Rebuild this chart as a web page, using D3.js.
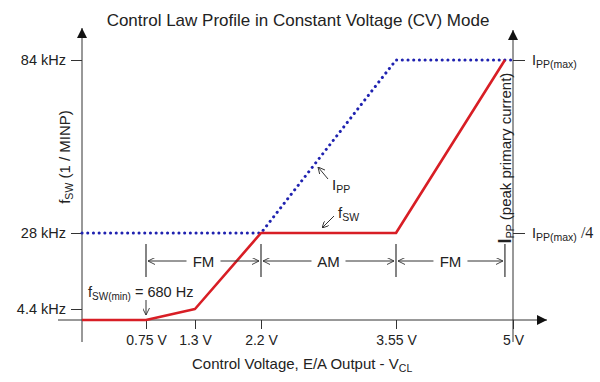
<!DOCTYPE html>
<html><head><meta charset="utf-8">
<script src="https://cdn.jsdelivr.net/npm/d3@7"></script>
<style>body{margin:0;background:#fff}svg{display:block}text{font-family:"Liberation Sans",Arial,sans-serif;fill:#222}</style>
</head><body><svg id="c" width="600" height="382"></svg>
<script>
// ---- data ----
const voltTicks = [0.75, 1.3, 2.2, 3.55, 5];
const voltLabels = ["0.75 V", "1.3 V", "2.2 V", "3.55 V", "5 V"];
const freqTicks = [4.4, 28, 84];
const freqLabels = ["4.4 kHz", "28 kHz", "84 kHz"];
const fswVolts = [0, 0.75, 1.3, 2.2, 3.55, 4.9];
const fswKHz   = [0.68, 0.68, 4.4, 28, 28, 84];
const ippVolts = [0, 2.2, 3.55, 5];
const ippFrac  = [0.25, 0.25, 1, 1];
const ippTicks = [0.25, 1];
const modeEdges = [0.75, 2.2, 3.55, 4.9];
const modeNames = ["FM", "AM", "FM"];

const svg = d3.select("#c");
const x = d3.scaleLinear().domain([0, 0.75, 1.3, 2.2, 3.55, 5]).range([82, 146, 195, 261, 396, 513]);
const y = d3.scaleLinear().domain([0.68, 4.4, 28, 84]).range([320, 309, 233, 60]);
const yR = d3.scaleLinear().domain([0.25, 1]).range([233, 60]);
const axisCol = "#333";

// defs arrow
svg.append("defs").append("marker").attr("id","ah").attr("viewBox","0 0 10 10").attr("refX",10).attr("refY",5)
  .attr("markerWidth",10).attr("markerHeight",11).attr("markerUnits","userSpaceOnUse").attr("orient","auto")
  .append("path").attr("d","M0,0 L10,5 L0,10 Z").attr("fill","#111");
const m2 = svg.select("defs").append("marker").attr("id","oa").attr("viewBox","0 0 10 10").attr("refX",10).attr("refY",5)
  .attr("markerWidth",7).attr("markerHeight",7).attr("markerUnits","userSpaceOnUse").attr("orient","auto");
m2.append("path").attr("d","M0,0 L10,5 L0,10").attr("fill","none").attr("stroke","#333").attr("stroke-width",1.3);

// title
svg.append("text").attr("x",298).attr("y",26).attr("text-anchor","middle").attr("font-size",17).text("Control Law Profile in Constant Voltage (CV) Mode");

// axis lines
svg.append("line").attr("x1",x(0)).attr("x2",x(0)).attr("y1",342).attr("y2",28).attr("stroke",axisCol).attr("marker-end","url(#ah)");
svg.append("line").attr("x1",x(5)).attr("x2",x(5)).attr("y1",342).attr("y2",30).attr("stroke",axisCol).attr("marker-end","url(#ah)");
svg.append("line").attr("x1",58).attr("x2",547).attr("y1",320).attr("y2",320).attr("stroke",axisCol).attr("marker-end","url(#ah)");

// left axis
const gl = svg.append("g").attr("transform",`translate(${x(0)},0)`)
  .call(d3.axisLeft(y).tickValues(freqTicks).tickSize(11).tickPadding(5).tickFormat((d,i)=>freqLabels[i]));
gl.select(".domain").remove();
gl.selectAll("line").attr("stroke",axisCol);
gl.selectAll("text").attr("font-size",14.5).attr("font-family","Liberation Sans, Arial, sans-serif").attr("fill","#222");

// bottom axis
const gb = svg.append("g").attr("transform","translate(0,320)")
  .call(d3.axisBottom(x).tickValues(voltTicks).tickSize(9).tickPadding(6).tickFormat((d,i)=>voltLabels[i]));
gb.select(".domain").remove();
gb.selectAll("line").attr("stroke",axisCol);
gb.selectAll("text").attr("font-size",14).attr("font-family","Liberation Sans, Arial, sans-serif").attr("fill","#222");

// right axis
const gr = svg.append("g").attr("transform",`translate(${x(5)},0)`)
  .call(d3.axisRight(yR).tickValues(ippTicks).tickSize(12).tickFormat(""));
gr.select(".domain").remove();
gr.selectAll("line").attr("stroke",axisCol);
function ippLabel(yy, suffix){
  const t = svg.append("text").attr("x",532).attr("y",yy+5).attr("font-size",14.5);
  t.append("tspan").text("I");
  t.append("tspan").attr("font-size",10.5).attr("dy",3).text("PP(max)");
  if(suffix){ t.append("tspan").attr("dy",-3).attr("font-family","Liberation Serif, serif").attr("font-size",16).text(suffix); }
}
ippLabel(yR(1), null);
ippLabel(yR(0.25), " /4");

// axis titles
const ty = svg.append("text").attr("transform","translate(70,157) rotate(-90)").attr("text-anchor","middle").attr("font-size",15);
ty.append("tspan").text("f");
ty.append("tspan").attr("font-size",10.5).attr("dy",3).text("SW");
ty.append("tspan").attr("dy",-3).text(" (1 / MINP)");

const tr = svg.append("text").attr("transform","translate(511,158) rotate(-90)").attr("text-anchor","middle").attr("font-size",15);
tr.append("tspan").attr("font-weight","bold").attr("font-size",18).text("I");
tr.append("tspan").attr("font-size",10.5).attr("dy",3).text("PP");
tr.append("tspan").attr("dy",-3).text(" (peak primary current)");

const tx = svg.append("text").attr("x",192).attr("y",369).attr("font-size",15);
tx.append("tspan").text("Control Voltage, E/A Output - V");
tx.append("tspan").attr("font-size",10.5).attr("dy",3).text("CL");

// lines
const lineF = d3.line().x(d=>x(d[0])).y(d=>y(d[1]));
const lineI = d3.line().x(d=>x(d[0])).y(d=>yR(d[1]));
svg.append("path").datum(ippVolts.map((v,i)=>[v,ippFrac[i]])).attr("d",lineI)
  .attr("fill","none").attr("stroke","#1f22b0").attr("stroke-width",3).attr("stroke-linecap","round").attr("stroke-dasharray","0.1 5.6");
svg.append("path").datum(fswVolts.map((v,i)=>[v,fswKHz[i]])).attr("d",lineF)
  .attr("fill","none").attr("stroke","#d81e25").attr("stroke-width",2.6).attr("stroke-linejoin","round");

// mode markers
const my = 261;
modeEdges.forEach(v=>{
  svg.append("line").attr("x1",x(v)).attr("x2",x(v)).attr("y1",244).attr("y2",277).attr("stroke","#333").attr("stroke-width",1.2);
});
modeNames.forEach((nm,i)=>{
  const a = x(modeEdges[i]), b = x(modeEdges[i+1]), c = (a+b)/2;
  const hw = 17;
  svg.append("text").attr("x",c).attr("y",my+5.5).attr("text-anchor","middle").attr("font-size",15).text(nm);
  svg.append("line").attr("x1",c-hw).attr("x2",a+2).attr("y1",my).attr("y2",my).attr("stroke","#333").attr("marker-end","url(#oa)");
  svg.append("line").attr("x1",c+hw).attr("x2",b-2).attr("y1",my).attr("y2",my).attr("stroke","#333").attr("marker-end","url(#oa)");
});

// annotations
svg.append("line").attr("x1",328).attr("y1",179).attr("x2",318).attr("y2",167).attr("stroke","#333").attr("marker-end","url(#oa)");
const ti = svg.append("text").attr("x",332).attr("y",190).attr("font-size",15);
ti.append("tspan").text("I"); ti.append("tspan").attr("font-size",10.5).attr("dy",3).text("PP");

svg.append("line").attr("x1",334).attr("y1",216).attr("x2",322).attr("y2",228).attr("stroke","#333").attr("marker-end","url(#oa)");
const tf = svg.append("text").attr("x",338).attr("y",218).attr("font-size",15);
tf.append("tspan").text("f"); tf.append("tspan").attr("font-size",10.5).attr("dy",3).text("SW");

const tm = svg.append("text").attr("x",88).attr("y",297).attr("font-size",14.5);
tm.append("tspan").text("f"); tm.append("tspan").attr("font-size",10).attr("dy",3).text("SW(min)");
tm.append("tspan").attr("dy",-3).text(" = 680 Hz");
svg.append("line").attr("x1",x(0.75)).attr("x2",x(0.75)).attr("y1",300).attr("y2",315).attr("stroke","#333").attr("marker-end","url(#oa)");
</script></body></html>
